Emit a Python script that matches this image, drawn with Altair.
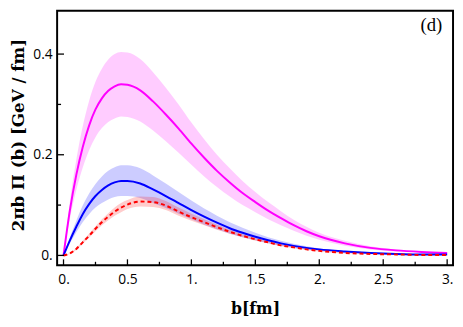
import altair as alt
import pandas as pd

b = [0, 0.05, 0.1, 0.15, 0.2, 0.25, 0.3, 0.35, 0.4, 0.45, 0.5, 0.6, 0.7, 0.8, 0.9, 1.0,
     1.1, 1.2, 1.3, 1.4, 1.5, 1.6, 1.7, 1.8, 1.9, 2.0, 2.2, 2.4, 2.6, 2.8, 3.0]

mag_c = [0, 0.09, 0.16, 0.215, 0.258, 0.29, 0.312, 0.327, 0.336, 0.34, 0.339, 0.328, 0.306,
         0.28, 0.252, 0.222, 0.194, 0.168, 0.145, 0.124, 0.106, 0.089, 0.074, 0.060, 0.048,
         0.038, 0.024, 0.015, 0.010, 0.007, 0.005]
mag_hi = [0, 0.107, 0.19, 0.256, 0.307, 0.345, 0.371, 0.389, 0.4, 0.404, 0.403, 0.39, 0.364,
          0.333, 0.3, 0.264, 0.231, 0.2, 0.173, 0.148, 0.126, 0.106, 0.088, 0.071, 0.057,
          0.045, 0.029, 0.018, 0.012, 0.008, 0.006]
mag_lo = [0, 0.073, 0.13, 0.174, 0.209, 0.235, 0.253, 0.265, 0.272, 0.276, 0.275, 0.266, 0.248,
          0.227, 0.204, 0.180, 0.157, 0.136, 0.117, 0.100, 0.086, 0.072, 0.060, 0.049, 0.039,
          0.031, 0.019, 0.012, 0.008, 0.006, 0.004]

blu_c = [0, 0.03, 0.057, 0.082, 0.102, 0.118, 0.130, 0.139, 0.145, 0.148, 0.148, 0.143, 0.131,
         0.118, 0.104, 0.090, 0.077, 0.065, 0.054, 0.045, 0.037, 0.030, 0.024, 0.019, 0.015,
         0.012, 0.008, 0.005, 0.003, 0.002, 0.002]
blu_hi = [0, 0.036, 0.069, 0.099, 0.123, 0.142, 0.157, 0.168, 0.175, 0.179, 0.179, 0.173, 0.159,
          0.143, 0.126, 0.109, 0.093, 0.079, 0.066, 0.055, 0.045, 0.036, 0.029, 0.023, 0.018,
          0.014, 0.009, 0.006, 0.004, 0.003, 0.002]
blu_lo = [0, 0.024, 0.046, 0.066, 0.082, 0.095, 0.104, 0.111, 0.116, 0.118, 0.118, 0.114, 0.104,
          0.094, 0.083, 0.072, 0.061, 0.052, 0.043, 0.036, 0.030, 0.024, 0.019, 0.015, 0.012,
          0.010, 0.006, 0.004, 0.002, 0.002, 0.001]

red_c = [0, 0.004, 0.013, 0.026, 0.039, 0.053, 0.066, 0.077, 0.087, 0.095, 0.101, 0.107, 0.106,
         0.099, 0.087, 0.076, 0.066, 0.056, 0.047, 0.039, 0.032, 0.026, 0.020, 0.016, 0.012,
         0.009, 0.005, 0.003, 0.002, 0.001, 0.001]
red_hi = [0, 0.005, 0.015, 0.029, 0.043, 0.058, 0.072, 0.084, 0.095, 0.104, 0.110, 0.117, 0.116,
          0.108, 0.095, 0.083, 0.072, 0.061, 0.051, 0.042, 0.035, 0.028, 0.022, 0.017, 0.013,
          0.010, 0.006, 0.003, 0.002, 0.001, 0.001]
red_lo = [0, 0.003, 0.011, 0.023, 0.035, 0.048, 0.060, 0.070, 0.079, 0.086, 0.092, 0.097, 0.096,
          0.090, 0.079, 0.069, 0.060, 0.051, 0.043, 0.036, 0.029, 0.024, 0.018, 0.015, 0.011,
          0.008, 0.004, 0.003, 0.002, 0.001, 0.001]

x_major = [0, 0.5, 1.0, 1.5, 2.0, 2.5, 3.0]
x_minor = [0.25, 0.75, 1.25, 1.75, 2.25, 2.75]
y_major = [0, 0.2, 0.4]
y_minor = [0.1, 0.3]

W, H = 403, 259
xs = alt.Scale(domain=[-0.05, 3.046], nice=False, zero=False)
ys = alt.Scale(domain=[-0.0195, 0.486], nice=False, zero=False)

rows = []
for name, c, lo, hi in [("mag", mag_c, mag_lo, mag_hi), ("blu", blu_c, blu_lo, blu_hi),
                        ("red", red_c, red_lo, red_hi)]:
    for i in range(len(b)):
        rows.append({"s": name, "b": b[i], "c": c[i], "lo": lo[i], "hi": hi[i]})
df = pd.DataFrame(rows)

lab_font = "Open Sans"
xaxis = alt.Axis(values=x_major, ticks=False, domain=False, grid=False, labelFont=lab_font,
                 labelFontSize=14, labelColor="black", labelPadding=8,
                 labelExpr="datum.value == floor(datum.value) ? format(datum.value, 'd') + '.' : format(datum.value, '.1f')",
                 title="b[fm]", titleFont="DejaVu Serif", titleFontSize=16, titleFontWeight="bold",
                 titleColor="black", titlePadding=14)
yaxis = alt.Axis(values=y_major, ticks=False, domain=False, grid=False, labelFont=lab_font,
                 labelFontSize=14, labelColor="black", labelPadding=5,
                 labelExpr="datum.value == 0 ? '0.' : format(datum.value, '.1f')",
                 title="2πb Π (b) [GeV / fm]", titleFont="DejaVu Serif", titleFontSize=17,
                 titleFontWeight="bold", titleColor="black",
                 titleX=-39, titleY=126, titleAngle=270, titleAlign="center",
                 titleBaseline="middle")

colors = {"mag": "#ff00ff", "blu": "#0000ff", "red": "#ff0000"}

X = lambda f: alt.X(f, scale=xs, axis=xaxis)
Y = lambda f: alt.Y(f, scale=ys, axis=yaxis)

layers = []
for name in ["mag", "blu", "red"]:
    d = df[df.s == name]
    layers.append(
        alt.Chart(d).mark_area(color=colors[name], opacity=0.2, interpolate="monotone").encode(
            x=X("b:Q"), y=Y("lo:Q"), y2="hi:Q",
        )
    )
for name in ["mag", "blu", "red"]:
    d = df[df.s == name]
    kw = dict(color=colors[name], strokeWidth=2, interpolate="monotone")
    if name == "red":
        kw["strokeDash"] = [4, 3]
    layers.append(
        alt.Chart(d).mark_line(**kw).encode(x=X("b:Q"), y=Y("c:Q"))
    )

def xticks(vals, length):
    return alt.Chart(pd.DataFrame({"b": vals})).mark_rule(color="black", strokeWidth=1.3).encode(
        x=X("b:Q"), y=alt.value(H), y2=alt.value(H - length))

def yticks(vals, length):
    return alt.Chart(pd.DataFrame({"c": vals})).mark_rule(color="black", strokeWidth=1.3).encode(
        y=Y("c:Q"), x=alt.value(0), x2=alt.value(length))

layers += [xticks(x_major, 6), xticks(x_minor, 3.5), yticks(y_major, 7), yticks(y_minor, 4)]

label = alt.Chart(pd.DataFrame({"t": ["(d)"]})).mark_text(
    font="Liberation Serif", fontSize=19, align="right", baseline="middle", color="black"
).encode(x=alt.value(392), y=alt.value(15), text="t:N")
layers.append(label)

chart = alt.layer(*layers).properties(
    width=W, height=H, autosize=alt.AutoSizeParams(type="none"),
    padding={"left": 50, "top": 0, "right": 2, "bottom": 59},
).configure_view(stroke="black", strokeWidth=2)

chart.save("out.html", embed_options={"renderer": "svg", "actions": False})
